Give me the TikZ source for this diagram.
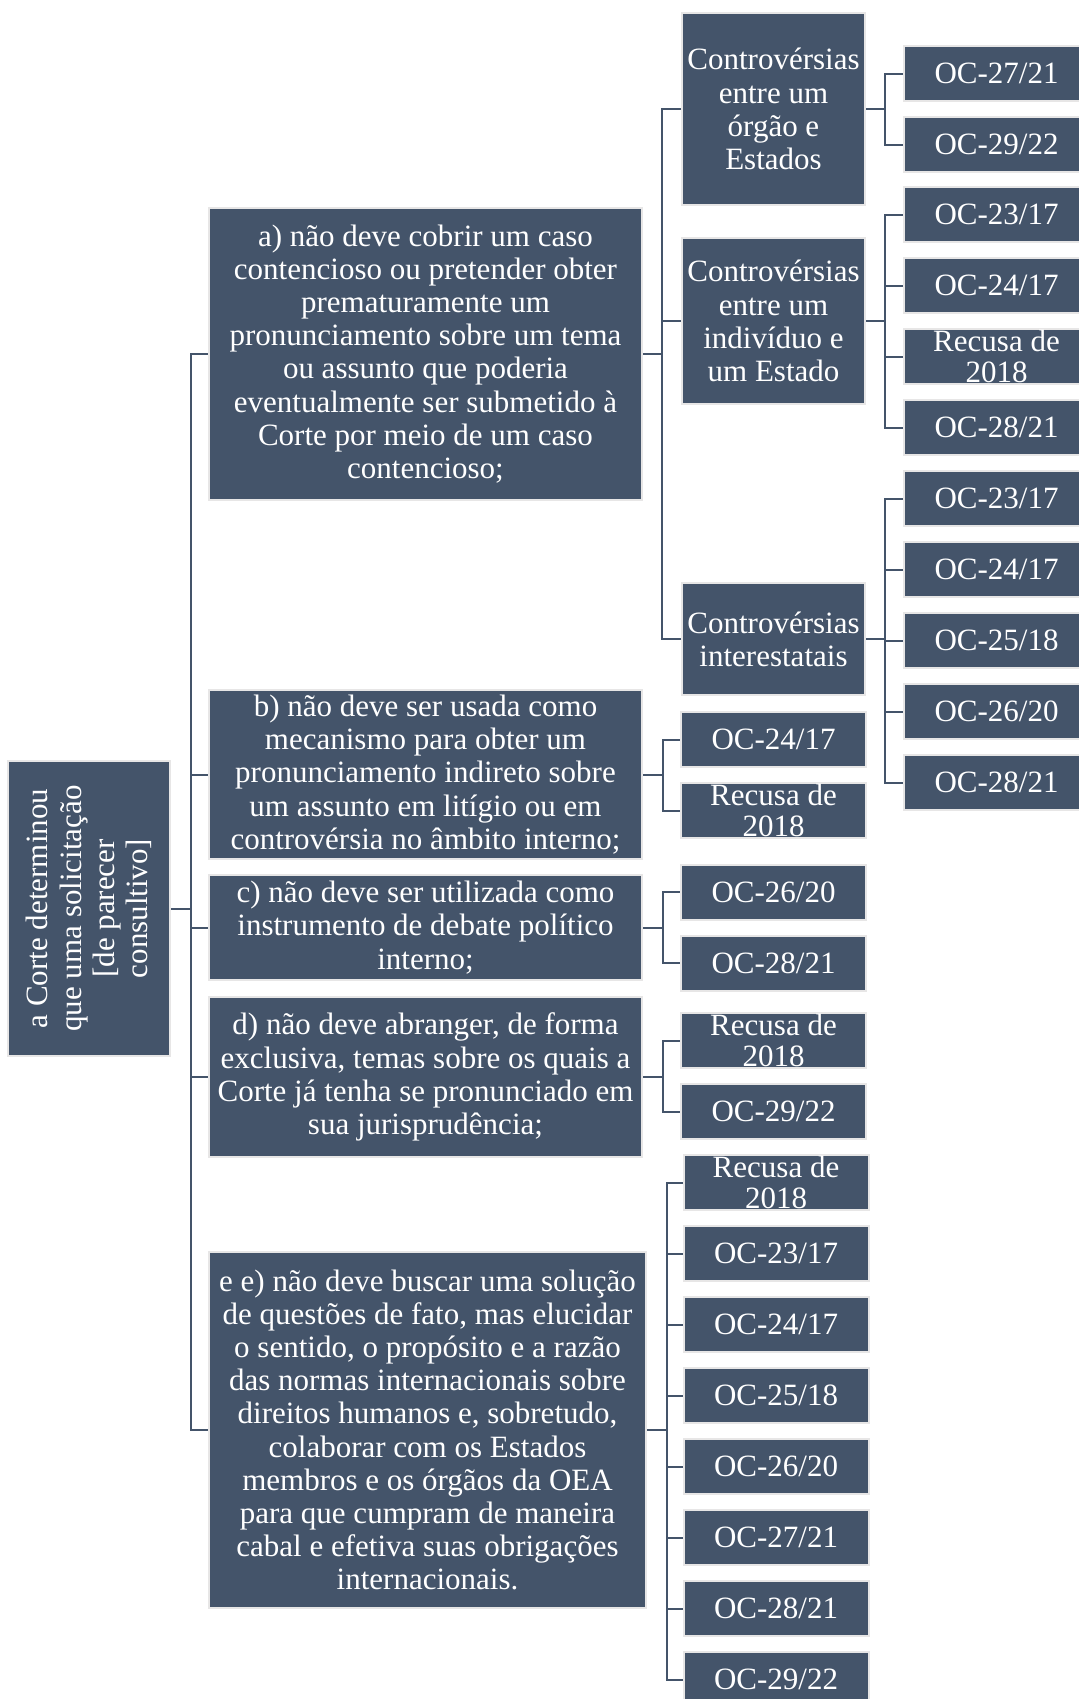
\documentclass[tikz,border=0pt]{standalone}
\usepackage{fontspec}
\setmainfont{Liberation Serif}
\usepackage{xcolor}
\usepackage{tikz}
\usetikzlibrary{positioning}
\definecolor{slate}{HTML}{44546A}
\definecolor{rim}{HTML}{E7E6E6}

\begin{document}
\begin{tikzpicture}[x=0.5pt,y=-0.5pt,
  box/.style={draw=rim,line width=1pt,fill=slate,text=white,inner sep=0pt,align=center,
    font=\fontsize{15.5}{16.6}\selectfont},
  crit/.style={box,minimum width=216.5pt},
  ctrl/.style={box,minimum width=91.5pt},
  leaf/.style={box,minimum width=92.5pt,minimum height=27.5pt,
    font=\fontsize{15.5}{15.8}\selectfont},
  link/.style={draw=slate,line width=1pt},
  node distance=7pt,
]
  \clip (0,0) rectangle (1079,1699);

  % root
  \node[box,rotate=90,minimum width=147.5pt,minimum height=81pt] (root) at (89,908.5)
    {a Corte determinou\\que uma solicitação\\{[}de parecer\\consultivo]};

  % criteria
  \node[crit,minimum height=146pt] (a) at (425.5,354) {a) não deve cobrir um caso\\contencioso ou pretender obter\\prematuramente um\\pronunciamento sobre um tema\\ou assunto que poderia\\eventualmente ser submetido à\\Corte por meio de um caso\\contencioso;};
  \node[crit,minimum height=84.5pt] (b) at (425.5,774.5) {b) não deve ser usada como\\mecanismo para obter um\\pronunciamento indireto sobre\\um assunto em litígio ou em\\controvérsia no âmbito interno;};
  \node[crit,minimum height=52.5pt] (c) at (425.5,927.5) {c) não deve ser utilizada como\\instrumento de debate político\\interno;};
  \node[crit,minimum height=80pt] (d) at (425.5,1077) {d) não deve abranger, de forma\\exclusiva, temas sobre os quais a\\Corte já tenha se pronunciado em\\sua jurisprudência;};
  \node[crit,minimum width=218.5pt,minimum height=178pt] (e) at (427.5,1430) {e e) não deve buscar uma solução\\de questões de fato, mas elucidar\\o sentido, o propósito e a razão\\das normas internacionais sobre\\direitos humanos e, sobretudo,\\colaborar com os Estados\\membros e os órgãos da OEA\\para que cumpram de maneira\\cabal e efetiva suas obrigações\\internacionais.};

  % kinds of controversy
  \node[ctrl,minimum height=96pt] (ca) at (773.5,109) {Controvérsias\\entre um\\órgão e\\Estados};
  \node[ctrl,minimum height=83pt] (cb) at (773.5,321) {Controvérsias\\entre um\\indivíduo e\\um Estado};
  \node[ctrl,minimum height=56pt] (cc) at (773.5,639) {Controvérsias\\interestatais};

  % opinions
  \node[leaf] (ca1) at (996.5,73.5) {OC-27/21};
  \node[leaf,below=of ca1] (ca2) {OC-29/22};

  \node[leaf] (cb1) at (996.5,214.5) {OC-23/17};
  \node[leaf,below=of cb1] (cb2) {OC-24/17};
  \node[leaf,below=of cb2] (cb3) {Recusa de\\2018};
  \node[leaf,below=of cb3] (cb4) {OC-28/21};

  \node[leaf] (cc1) at (996.5,498.5) {OC-23/17};
  \node[leaf,below=of cc1] (cc2) {OC-24/17};
  \node[leaf,below=of cc2] (cc3) {OC-25/18};
  \node[leaf,below=of cc3] (cc4) {OC-26/20};
  \node[leaf,below=of cc4] (cc5) {OC-28/21};

  \node[leaf] (b1) at (773.5,739.5) {OC-24/17};
  \node[leaf,below=of b1] (b2) {Recusa de\\2018};

  \node[leaf] (c1) at (773.5,892) {OC-26/20};
  \node[leaf,below=of c1] (c2) {OC-28/21};

  \node[leaf] (d1) at (773.5,1040.5) {Recusa de\\2018};
  \node[leaf,below=of d1] (d2) {OC-29/22};

  \node[leaf] (e1) at (776,1182.5) {Recusa de\\2018};
  \node[leaf,below=of e1] (e2) {OC-23/17};
  \node[leaf,below=of e2] (e3) {OC-24/17};
  \node[leaf,below=of e3] (e4) {OC-25/18};
  \node[leaf,below=of e4] (e5) {OC-26/20};
  \node[leaf,below=of e5] (e6) {OC-27/21};
  \node[leaf,below=of e6] (e7) {OC-28/21};
  \node[leaf,below=of e7] (e8) {OC-29/22};

  % connectors
  \foreach \n in {a,b,c,d,e} \draw[link] (root.south) -- ++(10pt,0) |- (\n.west);
  \foreach \n in {ca,cb,cc} \draw[link] (a.east) -- ++(9.5pt,0) |- (\n.west);
  \foreach \n in {ca1,ca2} \draw[link] (ca.east) -- ++(9.5pt,0) |- (\n.west);
  \foreach \n in {cb1,cb2,cb3,cb4} \draw[link] (cb.east) -- ++(9.5pt,0) |- (\n.west);
  \foreach \n in {cc1,cc2,cc3,cc4,cc5} \draw[link] (cc.east) -- ++(9.5pt,0) |- (\n.west);
  \foreach \n in {b1,b2} \draw[link] (b.east) -- ++(10pt,0) |- (\n.west);
  \foreach \n in {c1,c2} \draw[link] (c.east) -- ++(10pt,0) |- (\n.west);
  \foreach \n in {d1,d2} \draw[link] (d.east) -- ++(10pt,0) |- (\n.west);
  \foreach \n in {e1,e2,e3,e4,e5,e6,e7,e8} \draw[link] (e.east) -- ++(10pt,0) |- (\n.west);
\end{tikzpicture}
\end{document}
